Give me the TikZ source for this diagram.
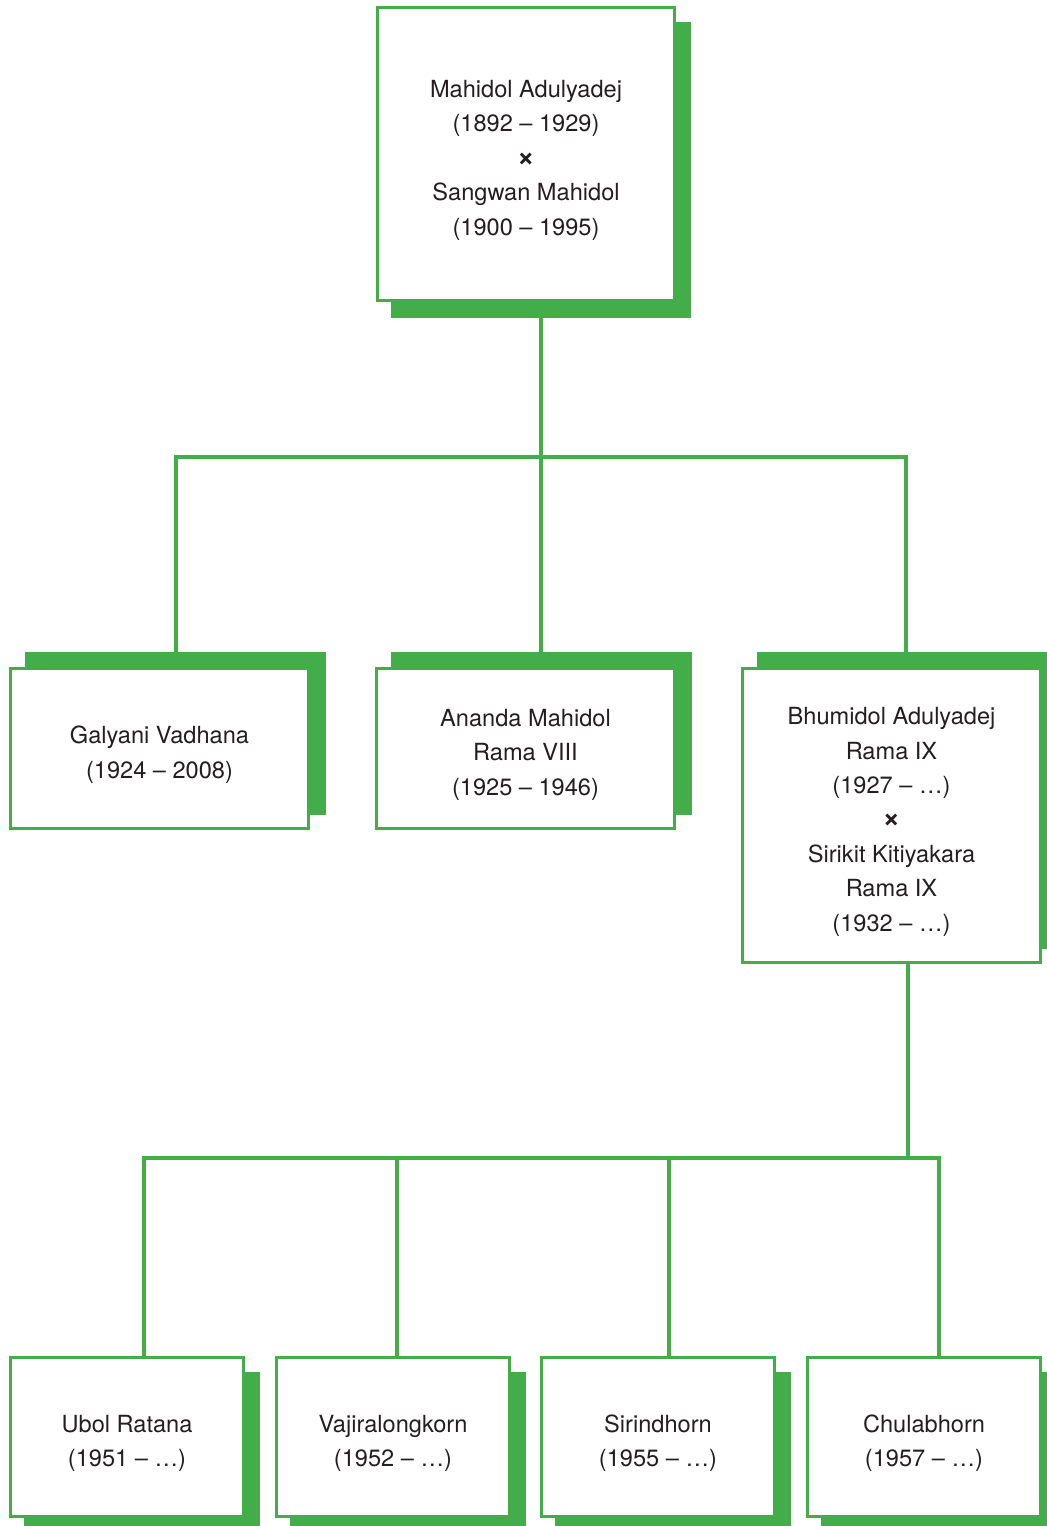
\documentclass[tikz,border=0pt]{standalone}
\usepackage{fontspec}
\setmainfont{TeX Gyre Heros}
\usepackage{tikz}
\usetikzlibrary{shadows}
\definecolor{famgreen}{RGB}{67,173,74}
\definecolor{famtext}{RGB}{35,31,32}
\tikzset{
  person/.style={shape=rectangle,draw=famgreen,line width=1.6pt,fill=white,text=famtext,align=center,inner sep=0pt,font=\fontsize{11.8}{17.2}\selectfont},
  shadowdown/.style={general shadow={shadow xshift=7.5pt,shadow yshift=-8pt,fill=famgreen,draw=famgreen,line width=1.6pt}},
  shadowup/.style={general shadow={shadow xshift=8pt,shadow yshift=7.5pt,fill=famgreen,draw=famgreen,line width=1.6pt}},
  link/.style={draw=famgreen,line width=2pt}
}
\newcommand{\wedx}{{\fontsize{15}{17.2}\selectfont\bfseries ×}}
\newcommand{\lift}{\rule{0pt}{14.8pt}}

\begin{document}
\begin{tikzpicture}[x=0.5pt,y=-0.5pt]
\useasboundingbox (0,0) rectangle (1047,1526);

\path (526,154) node (parents) [person,shadowdown,minimum width=148.4pt,minimum height=146.4pt]{\lift Mahidol Adulyadej\\(1892 – 1929)\\\wedx\\Sangwan Mahidol\\(1900 – 1995)};

\path (159.5,748.5) node (galyani) [person,shadowup,minimum width=148.9pt,minimum height=79.9pt]{\lift Galyani Vadhana\\(1924 – 2008)};

\path (525.5,748.5) node (ananda) [person,shadowup,minimum width=148.9pt,minimum height=79.9pt]{\lift Ananda Mahidol\\Rama VIII\\(1925 – 1946)};

\path (891.5,815.5) node (bhumidol) [person,shadowup,minimum width=148.9pt,minimum height=146.9pt]{\lift Bhumidol Adulyadej\\Rama IX\\(1927 – …)\\\wedx\\Sirikit Kitiyakara\\Rama IX\\(1932 – …)};

\path (127,1437) node (ubol) [person,shadowdown,minimum width=116.4pt,minimum height=79.4pt]{\lift Ubol Ratana\\(1951 – …)};

\path (393,1437) node (vajira) [person,shadowdown,minimum width=116.4pt,minimum height=79.4pt]{\lift Vajiralongkorn\\(1952 – …)};

\path (658,1437) node (sirindhorn) [person,shadowdown,minimum width=116.4pt,minimum height=79.4pt]{\lift Sirindhorn\\(1955 – …)};

\path (924,1437) node (chula) [person,shadowdown,minimum width=116.4pt,minimum height=79.4pt]{\lift Chulabhorn\\(1957 – …)};

\coordinate (fork1) at (540.5,457);
\coordinate (fork2) at (907.5,1158);

\draw[link] ([xshift=7.25pt]parents.south) -- (fork1);
\draw[link] ([xshift=8.25pt]galyani.north) |- (fork1) -| ([xshift=7pt]bhumidol.north);
\draw[link] ([xshift=7.5pt]ananda.north) -- (fork1);

\draw[link] ([xshift=8pt]bhumidol.south) -- (fork2);
\draw[link] ([xshift=8.5pt]ubol.north) |- (fork2) -| ([xshift=7.5pt]chula.north);
\draw[link] ([xshift=2pt]vajira.north) -- ++(0,-198);
\draw[link] ([xshift=5.5pt]sirindhorn.north) -- ++(0,-198);

\end{tikzpicture}
\end{document}
